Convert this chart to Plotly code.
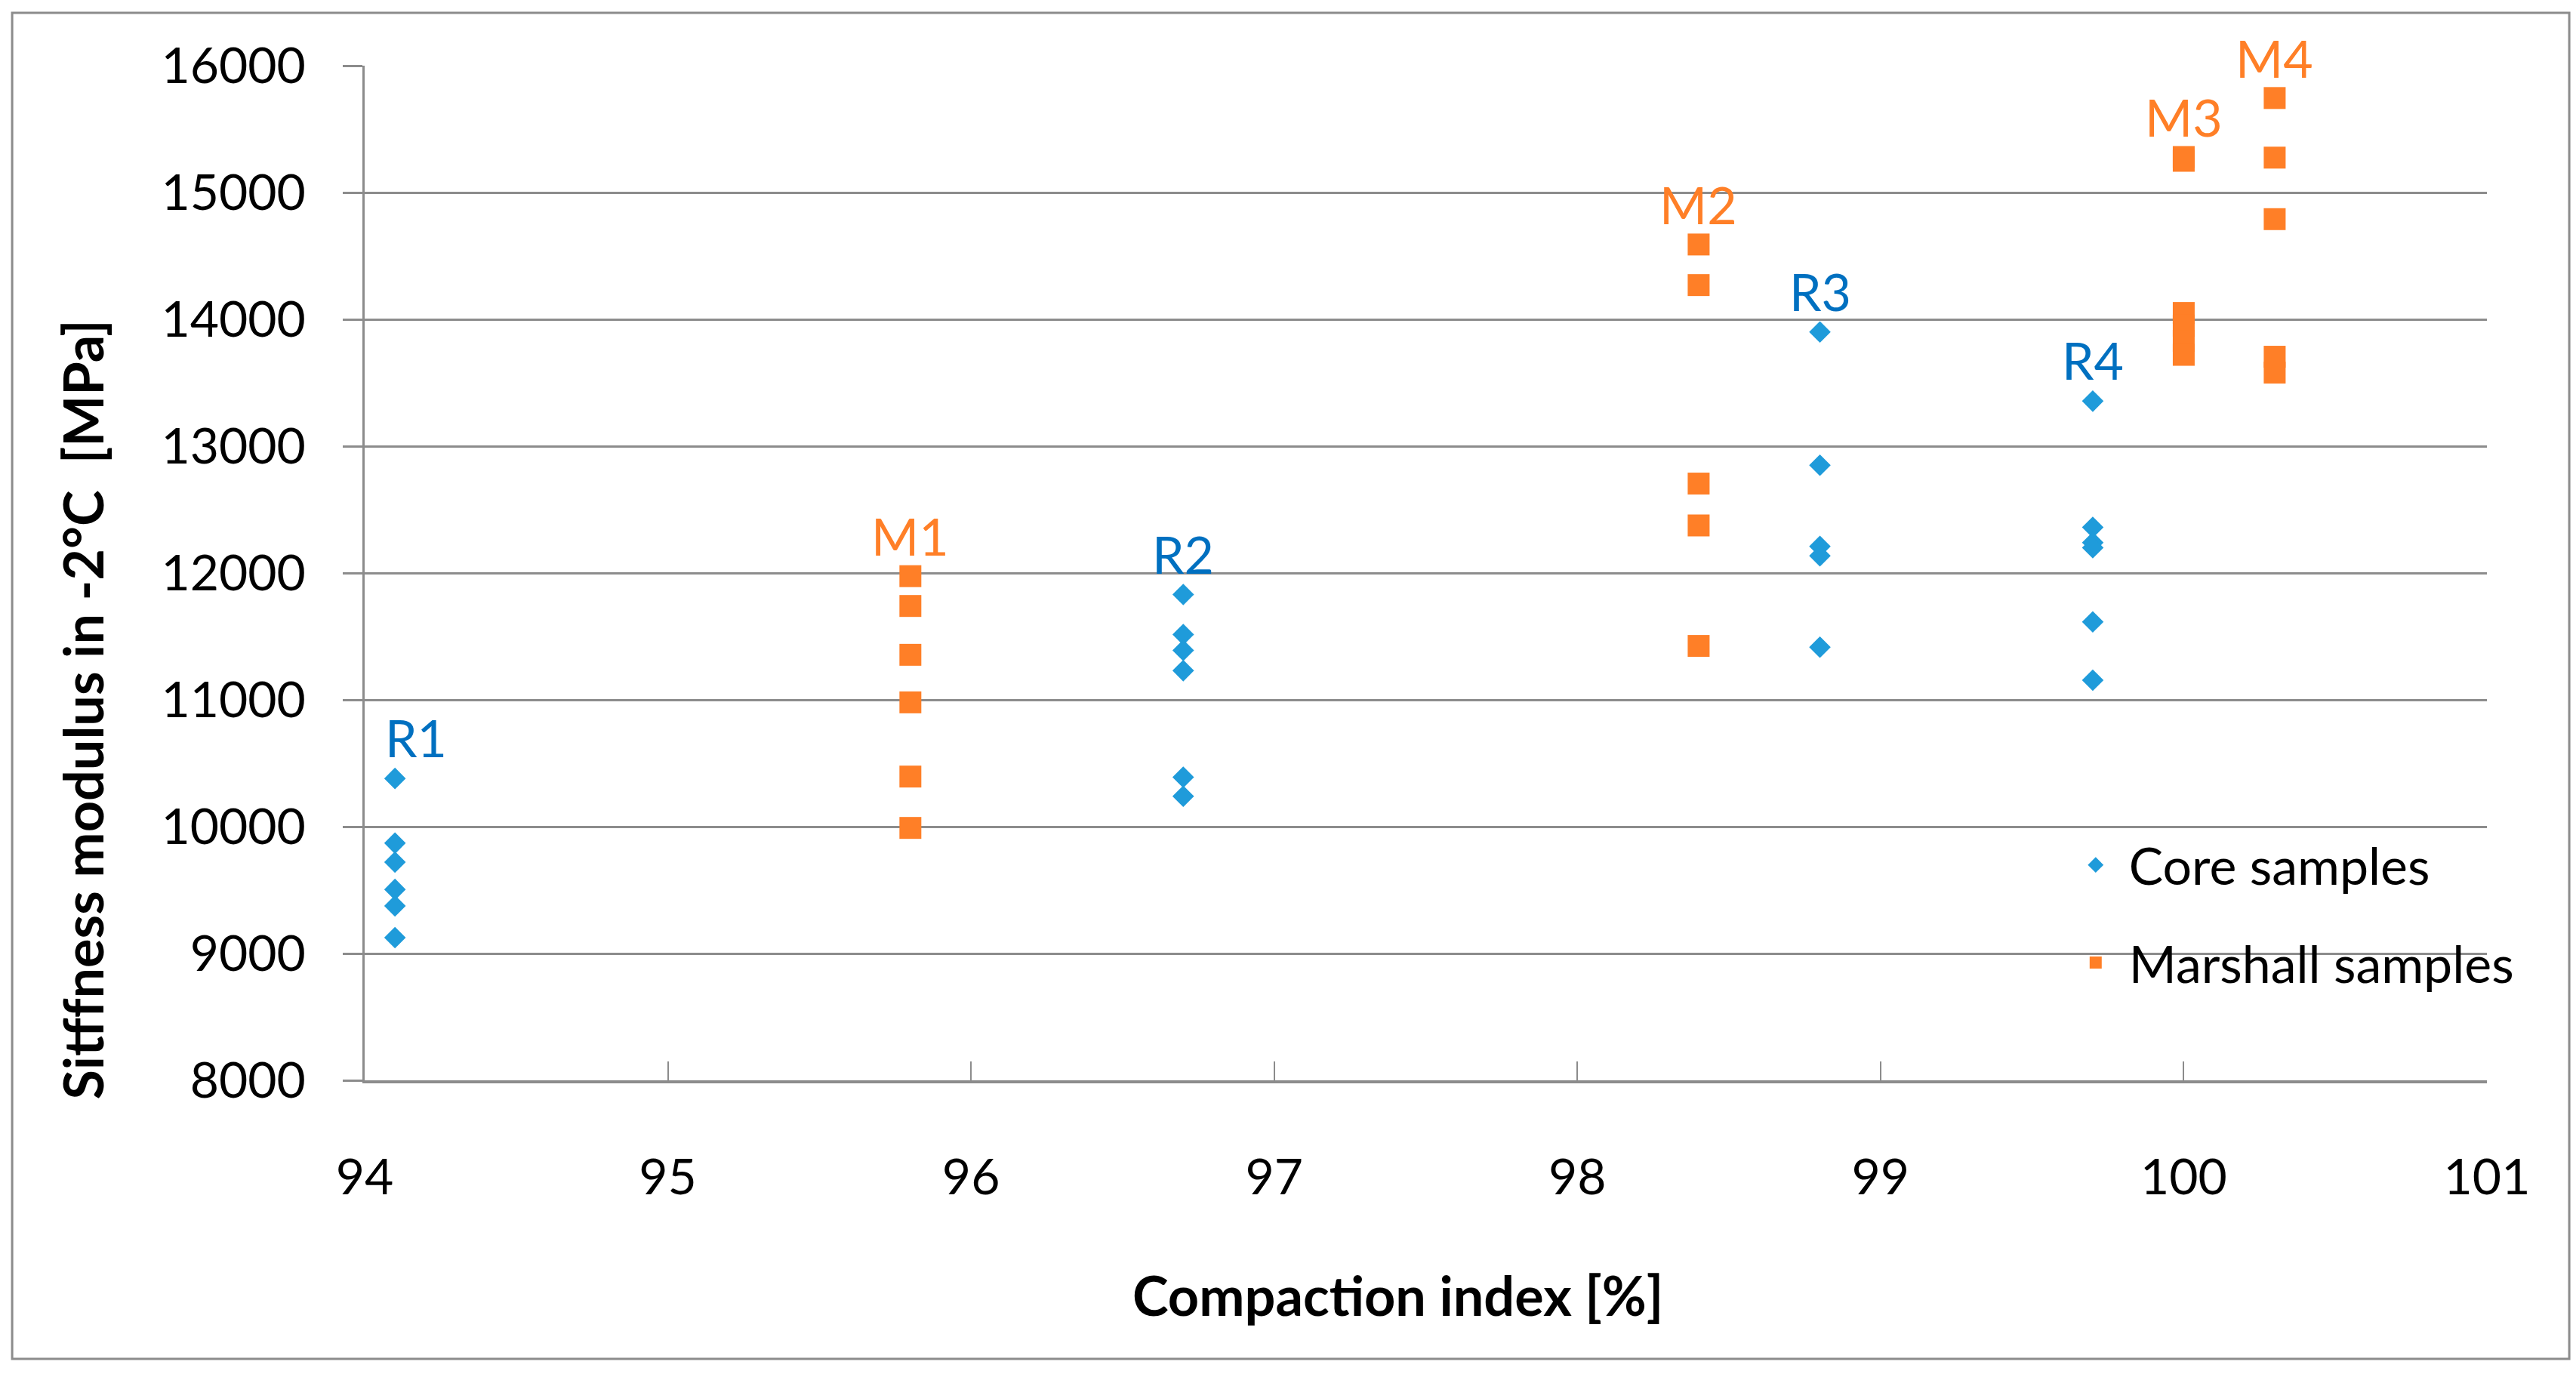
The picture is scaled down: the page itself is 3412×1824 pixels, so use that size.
import plotly.graph_objects as go

# ---------------- data ----------------
core_groups = ["R1", "R2", "R3", "R4"]
core_ci = [94.1, 96.7, 98.8, 99.7]
r1_values = [10380, 9870, 9720, 9505, 9375, 9125]
r2_values = [11830, 11515, 11390, 11230, 10390, 10240]
r3_values = [13900, 12850, 12210, 12135, 11415]
r4_values = [13355, 12360, 12240, 12200, 11615, 11155]

marshall_groups = ["M1", "M2", "M3", "M4"]
marshall_ci = [95.8, 98.4, 100.0, 100.3]
m1_values = [11975, 11740, 11355, 10980, 10395, 9990]
m2_values = [14590, 14270, 12705, 12375, 11425]
m3_values = [15280, 15250, 14050, 13950, 13830, 13720]
m4_values = [15745, 15275, 14790, 13705, 13580]

x_ticks = [94, 95, 96, 97, 98, 99, 100, 101]
y_ticks = [8000, 9000, 10000, 11000, 12000, 13000, 14000, 15000, 16000]

core_sets = [r1_values, r2_values, r3_values, r4_values]
marshall_sets = [m1_values, m2_values, m3_values, m4_values]

# ---------------- styles ----------------
FONT = "Lato"
GRID = "#8C8C8C"
CORE_C = "#1F9BDA"
CORE_LABEL_C = "#0070C0"
MARSH_C = "#FF7F27"

core_x, core_y = [], []
for ci, vals in zip(core_ci, core_sets):
    core_x += [ci] * len(vals)
    core_y += vals
m_x, m_y = [], []
for ci, vals in zip(marshall_ci, marshall_sets):
    m_x += [ci] * len(vals)
    m_y += vals

fig = go.Figure()
fig.add_trace(go.Scatter(
    x=core_x, y=core_y, mode="markers", name="Core samples",
    legendgroup="core",
    marker=dict(symbol="diamond", size=22, color=CORE_C, line=dict(width=0)),
))
fig.add_trace(go.Scatter(
    x=m_x, y=m_y, mode="markers", name="Marshall samples",
    legendgroup="marsh",
    marker=dict(symbol="square", size=29, color=MARSH_C, line=dict(width=0)),
))

annotations = []
for name, ci, vals in zip(core_groups, core_ci, core_sets):
    annotations.append(dict(
        x=ci, y=max(vals), xref="x", yref="y", text=name, showarrow=False,
        yanchor="bottom", xanchor="center", yshift=12,
        xshift=28 if name == "R1" else 0,
        font=dict(family=FONT, size=68, color=CORE_LABEL_C),
    ))
for name, ci, vals in zip(marshall_groups, marshall_ci, marshall_sets):
    annotations.append(dict(
        x=ci, y=max(vals), xref="x", yref="y", text=name, showarrow=False,
        yanchor="bottom", xanchor="center", yshift=11,
        font=dict(family=FONT, size=68, color=MARSH_C),
    ))

# axis titles
annotations.append(dict(
    x=0.487, y=-0.211, xref="paper", yref="paper",
    text="<b>Compaction index [%]</b>", showarrow=False,
    xanchor="center", yanchor="middle",
    font=dict(family=FONT, size=72, color="black"),
))
annotations.append(dict(
    x=-0.133, y=0.365, xref="paper", yref="paper",
    text="<b>Sitffness modulus in -2°C\u00a0 [MPa]</b>", showarrow=False,
    xanchor="center", yanchor="middle", textangle=-90,
    font=dict(family=FONT, size=72, color="black"),
))

fig.update_layout(
    width=3412, height=1824,
    margin=dict(l=483, r=118, t=87, b=393),
    paper_bgcolor="white", plot_bgcolor="white",
    font=dict(family=FONT, size=66, color="black"),
    showlegend=True,
    legend=dict(
        x=0.80, y=0.250, xanchor="left", yanchor="top",
        bgcolor="rgba(0,0,0,0)", borderwidth=0,
        font=dict(family=FONT, size=68, color="black"),
        itemwidth=78, tracegroupgap=38, traceorder="grouped",
    ),
    annotations=annotations,
    shapes=[dict(
        type="rect", xref="paper", yref="paper",
        x0=-0.1661, x1=1.0388, y0=-0.2746, y1=1.0521,
        line=dict(color=GRID, width=3), fillcolor="rgba(0,0,0,0)", layer="below",
    )],
)

fig.update_xaxes(
    range=[94, 101], tickmode="array", tickvals=x_ticks,
    ticktext=[str(v) for v in x_ticks],
    showgrid=False, zeroline=False,
    showline=True, linecolor=GRID, linewidth=4,
    ticks="inside", ticklen=25, tickwidth=2, tickcolor=GRID,
    tickfont=dict(family=FONT, size=66, color="black"),
    ticklabelstandoff=68,
)
fig.update_yaxes(
    range=[8000, 16000], tickmode="array", tickvals=y_ticks,
    ticktext=[str(v) for v in y_ticks],
    showgrid=True, gridcolor=GRID, gridwidth=3, zeroline=False,
    showline=True, linecolor=GRID, linewidth=3,
    ticks="outside", ticklen=26, tickwidth=3, tickcolor=GRID,
    tickfont=dict(family=FONT, size=66, color="black"),
    ticklabelstandoff=36,
)

fig.write_html(
    "out.html",
    config={"displayModeBar": False},
    post_script="document.body.style.margin='0';document.body.style.overflow='hidden';",
)
